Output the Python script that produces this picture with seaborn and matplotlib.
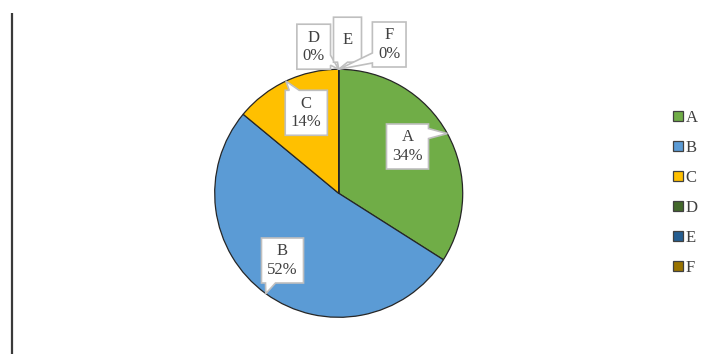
import matplotlib
matplotlib.use("Agg")
import matplotlib.pyplot as plt
from matplotlib.patches import Polygon, Patch
import numpy as np
import seaborn as sns

# Series data
categories = ["A", "B", "C", "D", "E", "F"]
values = [34, 52, 14, 0, 0, 0]
show_value = [True, True, True, True, False, True]
colors_hex = ["#70AD47", "#5B9BD5", "#FFC000", "#43682B", "#255E91", "#997300"]

# Label box centres, relative to the pie centre (pixels, y up)
label_offsets = [(68.8, 46.8), (-56.2, -67.2), (-32.4, 80.5),
                 (-25.0, 146.6), (8.8, 153.6), (50.5, 148.8)]

W, H = 703, 354
sns.set_theme(style="white")
plt.rcParams["font.family"] = ["Liberation Serif", "DejaVu Serif"]
palette = sns.color_palette(colors_hex)
text_color = "#404040"
FS = 12

fig = plt.figure(figsize=(W / 100, H / 100), dpi=100)
ax = fig.add_axes([0, 0, 1, 1])

cx, cy, R = 338.7, H - 193.3, 124
wedges, _ = ax.pie(values, colors=palette, startangle=90, counterclock=False,
                   center=(cx, cy), radius=R, frame=True,
                   wedgeprops=dict(edgecolor="#262626", linewidth=0.9))
ax.set_xlim(0, W)
ax.set_ylim(0, H)
ax.set_aspect("equal")
ax.axis("off")

# thin rule at the left margin
ax.plot([12, 12], [0, H - 13], color="#3a3a3a", lw=1.6, solid_capstyle="butt")

total = float(sum(values))
fig.canvas.draw()
renderer = fig.canvas.get_renderer()
inv = ax.transData.inverted()


def callout(label, centre, tip, height=45, padx=5.7, min_w=28, half_base=5):
    txt = ax.text(centre[0], centre[1], label, ha="center", va="center",
                  multialignment="center", fontsize=FS, color=text_color,
                  linespacing=1.2, zorder=5)
    bb = txt.get_window_extent(renderer)
    (a0, _), (a1, _) = inv.transform([(bb.x0, bb.y0), (bb.x1, bb.y1)])
    w = max(a1 - a0 + 2 * padx, min_w)
    x0, x1 = centre[0] - w / 2, centre[0] + w / 2
    y0, y1 = centre[1] - height / 2, centre[1] + height / 2
    tx, ty = tip
    nx = (tx - centre[0]) / (w / 2)
    ny = (ty - centre[1]) / (height / 2)
    m = 4 + half_base
    if abs(nx) >= abs(ny):
        b = np.clip(ty, y0 + m, y1 - m)
        if nx > 0:
            pts = [(x0, y0), (x1, y0), (x1, b - half_base), (tx, ty),
                   (x1, b + half_base), (x1, y1), (x0, y1)]
        else:
            pts = [(x0, y0), (x1, y0), (x1, y1), (x0, y1),
                   (x0, b + half_base), (tx, ty), (x0, b - half_base)]
    else:
        b = np.clip(tx, x0 + m, x1 - m)
        if ny < 0:
            pts = [(x0, y0), (b - half_base, y0), (tx, ty),
                   (b + half_base, y0), (x1, y0), (x1, y1), (x0, y1)]
        else:
            pts = [(x0, y0), (x1, y0), (x1, y1), (b + half_base, y1),
                   (tx, ty), (b - half_base, y1), (x0, y1)]
    ax.add_patch(Polygon(pts, closed=True, facecolor="white",
                         edgecolor="#BFBFBF", lw=1.2, zorder=4,
                         joinstyle="miter"))


for cat, val, show, wedge, off in zip(categories, values, show_value,
                                      wedges, label_offsets):
    mid = np.deg2rad((wedge.theta1 + wedge.theta2) / 2)
    tip = (cx + R * np.cos(mid), cy + R * np.sin(mid))
    label = f"{cat}\n{val / total * 100:.0f}%" if show else cat
    callout(label, (cx + off[0], cy + off[1]), tip)

handles = [Patch(facecolor=c, edgecolor="#404040", linewidth=0.9)
           for c in palette]
leg = ax.legend(handles, categories, loc="center left",
                bbox_to_anchor=(672.5 / W, (H - 193) / H),
                frameon=False, fontsize=FS, handlelength=0.6,
                handleheight=0.6, handletextpad=0.2, labelspacing=0.84,
                borderpad=0, borderaxespad=0)
for t in leg.get_texts():
    t.set_color(text_color)

fig.savefig("out.png", dpi=100)
